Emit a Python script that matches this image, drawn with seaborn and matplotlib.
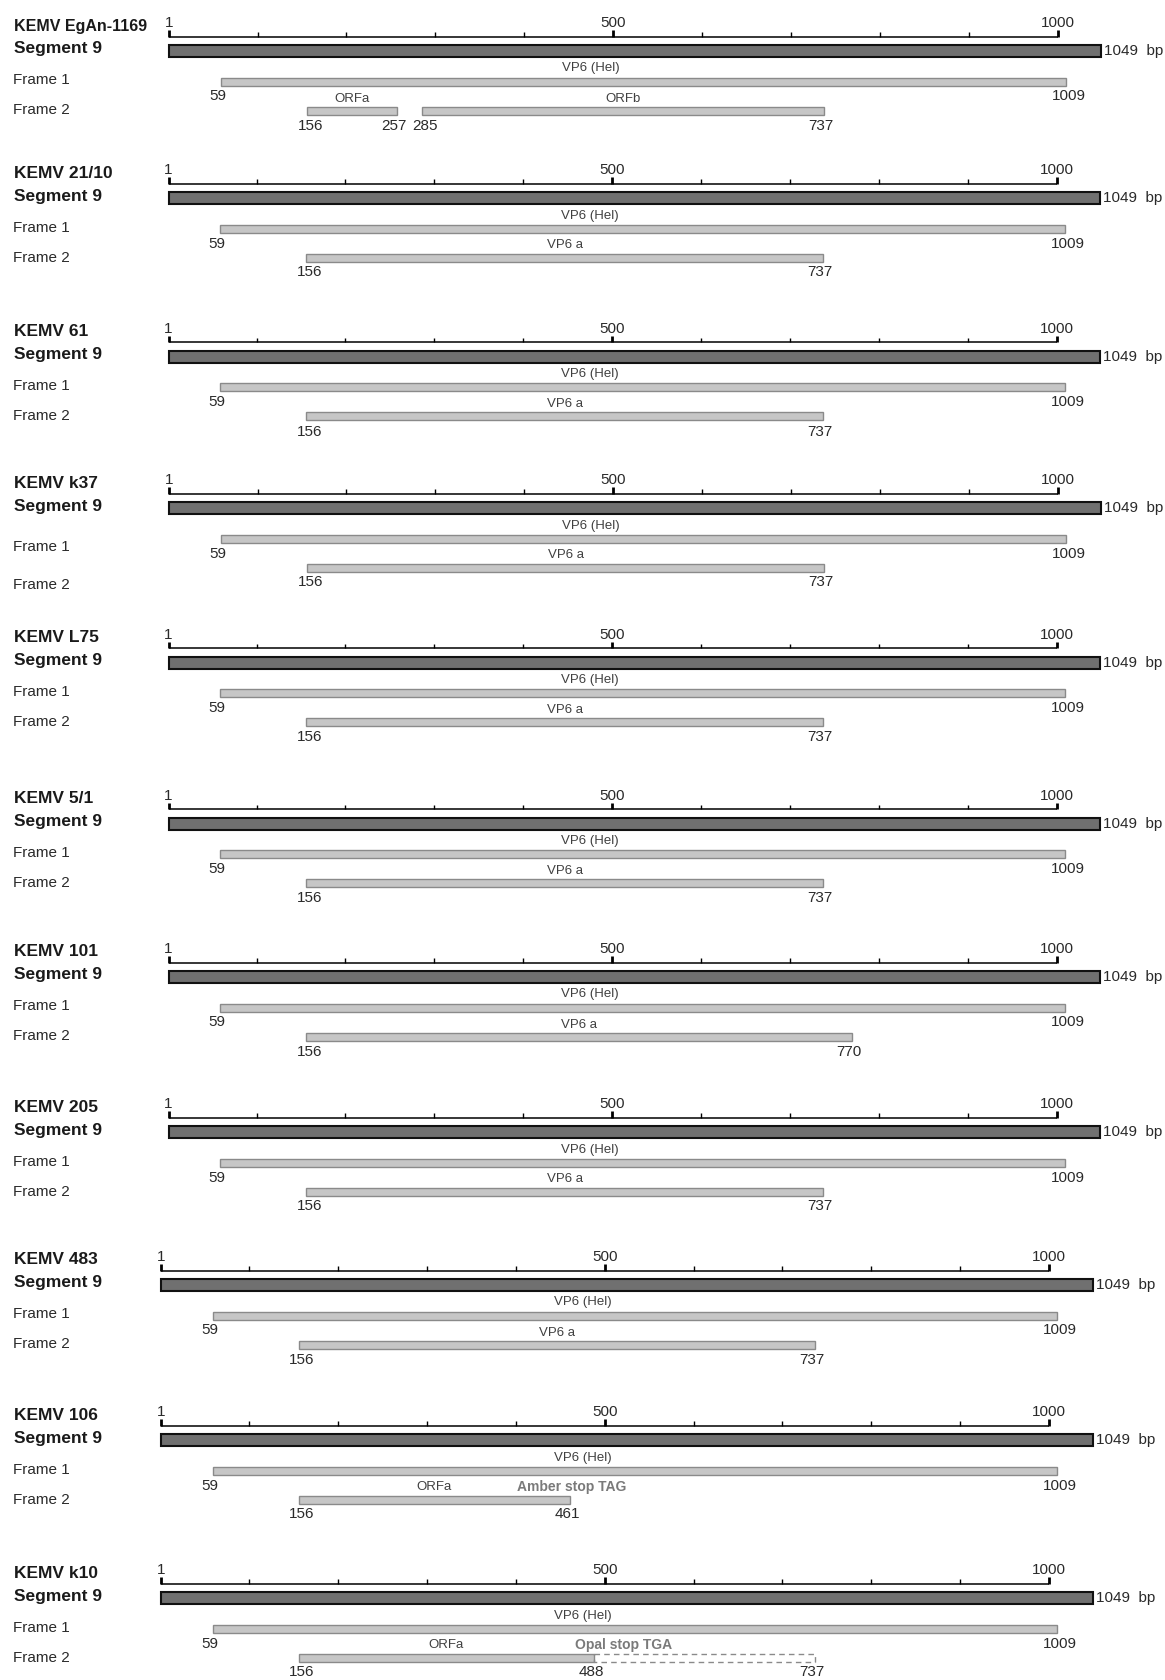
import matplotlib
matplotlib.use("Agg")
import matplotlib.pyplot as plt
from matplotlib.transforms import blended_transform_factory
import seaborn as sns

# ---------------- data ----------------
isolates = ["KEMV EgAn-1169", "KEMV 21/10", "KEMV 61", "KEMV k37", "KEMV L75",
            "KEMV 5/1", "KEMV 101", "KEMV 205", "KEMV 483", "KEMV 106", "KEMV k10"]
segment_label = "Segment 9"
segment_length = 1049
ruler_ticks = [1, 100, 200, 300, 400, 500, 600, 700, 800, 900, 1000]
ruler_major = [1, 500, 1000]
ruler_major_labels = ["1", "500", "1000"]

frame1_start = 59
frame1_end = 1009
frame1_name = "VP6 (Hel)"
frame1_name_at = 475

frame2_starts = [[156, 285], [156], [156], [156], [156], [156], [156], [156], [156], [156], [156]]
frame2_ends = [[257, 737], [737], [737], [737], [737], [737], [770], [737], [737], [461], [488]]
frame2_names = [["ORFa", "ORFb"], ["VP6 a"], ["VP6 a"], ["VP6 a"], ["VP6 a"], ["VP6 a"],
                ["VP6 a"], ["VP6 a"], ["VP6 a"], ["ORFa"], ["ORFa"]]
stop_notes = [None, None, None, None, None, None, None, None, None,
              "Amber stop TAG", "Opal stop TGA"]
readthrough_ends = [None, None, None, None, None, None, None, None, None, None, 737]

# ---------------- layout (pixels) ----------------
FIG_W, FIG_H = 1165, 1680
bar_centre_px = [51, 198, 357, 508, 663, 824, 977, 1132, 1285, 1440, 1598]
bp1_px = [169.5, 168.5, 168.5, 169.5, 168.5, 168.5, 168.5, 168.5, 161, 161, 161]
PX_PER_BP = 0.889
TOP, BOTTOM = -44, 92
RULER_Y = -14.5
F1_Y, F2_Y = 30.5, 59.5
frame_label_dy = [(29.5, 59.5)] * len(isolates)
frame_label_dy[3] = (39, 77)
note_dx = {9: 2, 10: 30}

sns.set_theme(style="white")
plt.rcParams["font.family"] = ["Liberation Sans", "DejaVu Sans"]

fig = plt.figure(figsize=(FIG_W / 100, FIG_H / 100), dpi=100)
fig.patch.set_facecolor("white")

DARK = "#707070"
LIGHT = "#c6c6c6"
LEDGE = "#8a8a8a"
TXT = "#2a2a2a"

for i, name in enumerate(isolates):
    D = bar_centre_px[i]
    ax = fig.add_axes([0, 1 - (D + BOTTOM) / FIG_H, 1, (BOTTOM - TOP) / FIG_H])
    x0 = bp1_px[i]
    ax.set_xlim(1 - x0 / PX_PER_BP, 1 + (FIG_W - x0) / PX_PER_BP)
    ax.set_ylim(BOTTOM, TOP)
    ax.axis("off")
    lt = blended_transform_factory(fig.transFigure, ax.transData)

    # left labels
    ax.text(14 / FIG_W, -25, name, transform=lt, ha="left", va="center",
            fontsize=11.5 if len(name) > 12 else 12.5, fontweight="bold", color="#1a1a1a")
    ax.text(14 / FIG_W, -2, segment_label, transform=lt, ha="left", va="center",
            fontsize=12.5, fontweight="bold", color="#1a1a1a")
    ax.text(13 / FIG_W, frame_label_dy[i][0], "Frame 1", transform=lt, ha="left",
            va="center", fontsize=11, color=TXT)
    ax.text(13 / FIG_W, frame_label_dy[i][1], "Frame 2", transform=lt, ha="left",
            va="center", fontsize=11, color=TXT)

    # ruler
    ax.hlines(RULER_Y, ruler_ticks[0], ruler_ticks[-1], color="black", lw=1.1)
    minor = [t for t in ruler_ticks if t not in ruler_major]
    ax.vlines(minor, RULER_Y - 4.5, RULER_Y, color="black", lw=1.0)
    ax.vlines(ruler_major, RULER_Y - 6.5, RULER_Y, color="black", lw=2.0)
    for t, lab in zip(ruler_major, ruler_major_labels):
        ax.text(t, -28, lab, ha="center", va="center", fontsize=11, color=TXT)

    # segment bar
    ax.barh(0, segment_length - 1, left=1, height=12, color=DARK,
            edgecolor="#111111", linewidth=1.5)
    ax.annotate(f"{segment_length}  bp", xy=(segment_length, 0), xytext=(3, 0),
                textcoords="offset pixels", ha="left", va="center", fontsize=11, color=TXT)

    # frame 1
    ax.barh(F1_Y, frame1_end - frame1_start, left=frame1_start, height=8,
            color=LIGHT, edgecolor=LEDGE, linewidth=1.0)
    ax.text(frame1_name_at, F1_Y - 13, frame1_name, ha="center", va="center",
            fontsize=9.5, color="#404040")
    ax.annotate(str(frame1_start), xy=(frame1_start, F1_Y + 15), xytext=(-3, 0),
                textcoords="offset pixels", ha="center", va="center", fontsize=11, color=TXT)
    ax.annotate(str(frame1_end), xy=(frame1_end, F1_Y + 15), xytext=(3, 0),
                textcoords="offset pixels", ha="center", va="center", fontsize=11, color=TXT)

    # frame 2
    for s, e, nm in zip(frame2_starts[i], frame2_ends[i], frame2_names[i]):
        ax.barh(F2_Y, e - s, left=s, height=8, color=LIGHT, edgecolor=LEDGE, linewidth=1.0)
        ax.text((s + e) / 2, F2_Y - 12, nm, ha="center", va="center",
                fontsize=9.5, color="#404040")
        ax.annotate(str(s), xy=(s, F2_Y + 15), xytext=(3, 0), textcoords="offset pixels",
                    ha="center", va="center", fontsize=11, color=TXT)
        ax.annotate(str(e), xy=(e, F2_Y + 15), xytext=(-3, 0), textcoords="offset pixels",
                    ha="center", va="center", fontsize=11, color=TXT)

    if readthrough_ends[i] is not None:
        s = frame2_ends[i][-1]
        e = readthrough_ends[i]
        ax.barh(F2_Y, e - s, left=s, height=8, facecolor="none", edgecolor=LEDGE,
                linewidth=1.0, linestyle=(0, (4, 3)))
        ax.annotate(str(e), xy=(e, F2_Y + 15), xytext=(-3, 0), textcoords="offset pixels",
                    ha="center", va="center", fontsize=11, color=TXT)

    if stop_notes[i] is not None:
        ax.annotate(stop_notes[i], xy=(frame2_ends[i][-1], F2_Y - 13),
                    xytext=(note_dx[i], 0), textcoords="offset pixels",
                    ha="center", va="center", fontsize=10, fontweight="bold", color="#7a7a7a")

fig.savefig("out.png", dpi=100, facecolor="white")
